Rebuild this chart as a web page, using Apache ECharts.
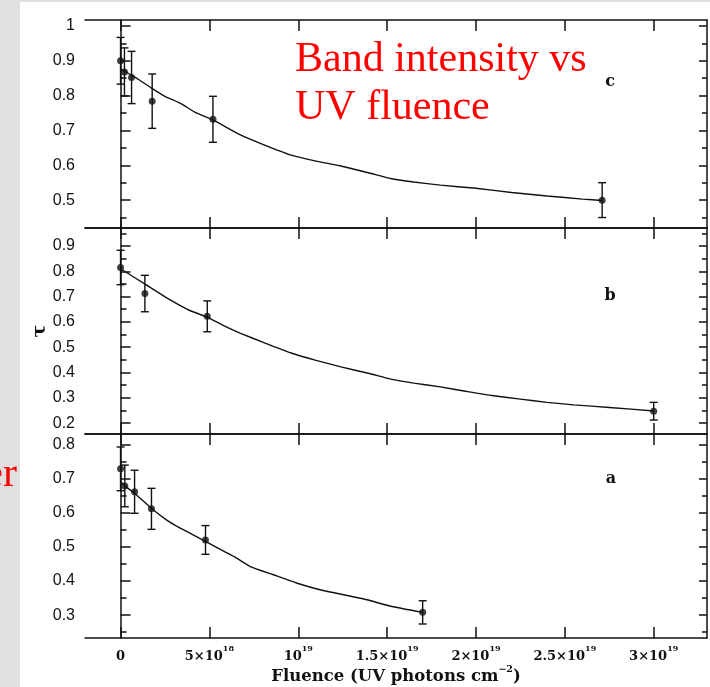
<!DOCTYPE html>
<html><head><meta charset="utf-8">
<script src="https://cdn.jsdelivr.net/npm/echarts@6/dist/echarts.min.js"></script>
<style>html,body{margin:0;padding:0;background:#e0e0e0}#main{width:710px;height:687px}</style>
</head><body><div id="main"></div>
<script>
// Fluence values in units of 1e18 photons cm^-2
const xTickValues = [0, 5, 10, 15, 20, 25, 30];
const xTickLabels = ['{n|0}', '{n|5×10}{s|18}', '{n|10}{s|19}', '{n|1.5×10}{s|19}', '{n|2×10}{s|19}', '{n|2.5×10}{s|19}', '{n|3×10}{s|19}'];
const panelNames = ['c', 'b', 'a'];

// Panel c
const cMajor = [0.5, 0.6, 0.7, 0.8, 0.9, 1];
const cMinor = [0.45, 0.55, 0.65, 0.75, 0.85, 0.95];
const cPointX = [0, 0.22, 0.62, 1.78, 5.2, 27.1];
const cPointY = [0.9, 0.868, 0.852, 0.784, 0.732, 0.5];
const cPointErr = [0.067, 0.069, 0.075, 0.078, 0.066, 0.05];
const cCurveX = [0, 0.5, 1, 1.7, 2.5, 3.4, 4.2, 5.2, 6.75, 8, 9.6, 11, 12.4, 14, 15.2, 16.5, 18, 20, 22, 24, 26, 27.1];
const cCurveY = [0.877, 0.862, 0.847, 0.823, 0.798, 0.777, 0.752, 0.73, 0.687, 0.66, 0.629, 0.612, 0.598, 0.578, 0.562, 0.552, 0.543, 0.534, 0.522, 0.512, 0.503, 0.499];

// Panel b
const bMajor = [0.2, 0.3, 0.4, 0.5, 0.6, 0.7, 0.8, 0.9];
const bMinor = [0.25, 0.35, 0.45, 0.55, 0.65, 0.75, 0.85, 0.95];
const bPointX = [0, 1.37, 4.88, 30.0];
const bPointY = [0.815, 0.712, 0.622, 0.247];
const bPointErr = [0.068, 0.072, 0.061, 0.035];
const bCurveX = [0, 1.4, 2.6, 3.9, 4.9, 5.8, 6.75, 8, 9.6, 11, 12.4, 14, 15.2, 16.5, 18, 19.5, 20.8, 22.5, 24, 25.5, 27.5, 30];
const bCurveY = [0.81, 0.748, 0.695, 0.645, 0.618, 0.585, 0.555, 0.52, 0.477, 0.448, 0.422, 0.396, 0.374, 0.358, 0.343, 0.325, 0.31, 0.295, 0.282, 0.272, 0.262, 0.248];

// Panel a
const aMajor = [0.3, 0.4, 0.5, 0.6, 0.7, 0.8];
const aMinor = [0.25, 0.35, 0.45, 0.55, 0.65, 0.75];
const aPointX = [0, 0.24, 0.79, 1.74, 4.78, 17.0];
const aPointY = [0.728, 0.678, 0.661, 0.611, 0.52, 0.308];
const aPointErr = [0.064, 0.061, 0.063, 0.06, 0.042, 0.034];
const aCurveX = [0, 0.3, 0.8, 1.75, 2.6, 3.2, 3.9, 4.8, 6.4, 7.3, 8.6, 9.9, 11.4, 13.7, 15.2, 17.0];
const aCurveY = [0.69, 0.676, 0.656, 0.612, 0.578, 0.559, 0.54, 0.515, 0.471, 0.442, 0.418, 0.394, 0.372, 0.347, 0.326, 0.308];

const panels = [
  {major: cMajor, minor: cMinor, min: 0.42, max: 1.017, px: cPointX, py: cPointY, pe: cPointErr, lx: cCurveX, ly: cCurveY},
  {major: bMajor, minor: bMinor, min: 0.157, max: 0.971, px: bPointX, py: bPointY, pe: bPointErr, lx: bCurveX, ly: bCurveY},
  {major: aMajor, minor: aMinor, min: 0.233, max: 0.83, px: aPointX, py: aPointY, pe: aPointErr, lx: aCurveX, ly: aCurveY}
];

const gridBoxes = [
  {left: 85, top: 20, width: 622, height: 208},
  {left: 85, top: 228, width: 622, height: 206},
  {left: 85, top: 434, width: 622, height: 204}
];
const letterPos = [[610, 82], [610, 296], [611, 479]];

const ink = '#111111';
const serif = 'DejaVu Serif';
const grid = [], xAxis = [], yAxis = [], series = [];

function errRender(params, api) {
  const x = api.value(0), y = api.value(1), e = api.value(2);
  const t = api.coord([x, y + e]), b = api.coord([x, y - e]);
  const hw = 4, st = {stroke: ink, lineWidth: 1.4};
  return {type: 'group', children: [
    {type: 'line', shape: {x1: t[0], y1: t[1], x2: b[0], y2: b[1]}, style: st},
    {type: 'line', shape: {x1: t[0] - hw, y1: t[1], x2: t[0] + hw, y2: t[1]}, style: st},
    {type: 'line', shape: {x1: b[0] - hw, y1: b[1], x2: b[0] + hw, y2: b[1]}, style: st}
  ]};
}

const labRich = {
  n: {fontSize: 13, fontFamily: serif, fontWeight: 'bold', color: ink, verticalAlign: 'bottom', lineHeight: 18},
  s: {fontSize: 8, fontFamily: serif, fontWeight: 'bold', color: ink, verticalAlign: 'top', lineHeight: 9}
};
const nameRich = {
  n: {fontSize: 16.5, fontFamily: serif, fontWeight: 'bold', color: ink, verticalAlign: 'bottom', lineHeight: 20},
  s: {fontSize: 9.5, fontFamily: serif, fontWeight: 'bold', color: ink, verticalAlign: 'top', lineHeight: 11}
};

panels.forEach((p, g) => {
  grid.push(Object.assign({containLabel: false}, gridBoxes[g]));
  const isBottom = g === 2;
  ['bottom', 'top'].forEach(pos => {
    const showLab = isBottom && pos === 'bottom';
    xAxis.push({
      type: 'value', gridIndex: g, position: pos, min: -2, max: 33,
      axisLine: {show: true, onZero: false, lineStyle: {color: ink, width: 1.5}},
      axisTick: {show: true, inside: true, length: 11, customValues: xTickValues, lineStyle: {color: ink, width: 1.5}},
      splitLine: {show: false},
      axisLabel: showLab ? {
        show: true, customValues: xTickValues, margin: 7,
        formatter: v => xTickLabels[xTickValues.indexOf(v)],
        color: ink, fontFamily: serif, fontSize: 13, rich: labRich
      } : {show: false},
      name: showLab ? '{n|Fluence (UV photons cm}{s|−2}{n|)}' : '',
      nameLocation: 'middle', nameGap: 27, nameMoveOverlap: false,
      nameTextStyle: {fontFamily: serif, fontSize: 16, color: ink, rich: nameRich}
    });
  });
  const yBase = {type: 'value', gridIndex: g, min: p.min, max: p.max, splitLine: {show: false}};
  yAxis.push(Object.assign({}, yBase, {
    position: 'left',
    axisLine: {show: true, lineStyle: {color: ink, width: 1.5}},
    axisTick: {show: true, inside: true, length: 10, customValues: p.major, lineStyle: {color: ink, width: 1.5}},
    axisLabel: {show: true, customValues: p.major, margin: 10, color: ink, fontFamily: 'Liberation Sans', fontSize: 16,
      formatter: v => String(+(+v).toFixed(2))},
    name: g === 1 ? 'τ' : '', nameLocation: 'middle', nameGap: 35, nameRotate: 90, nameMoveOverlap: false,
    nameTextStyle: {fontFamily: serif, fontSize: 19, fontWeight: 'bold', color: ink}
  }));
  yAxis.push(Object.assign({}, yBase, {
    position: 'left',
    axisLine: {show: false},
    axisTick: {show: true, inside: true, length: 6, customValues: p.minor, lineStyle: {color: ink, width: 1.5}},
    axisLabel: {show: false}
  }));
  yAxis.push(Object.assign({}, yBase, {
    position: 'right',
    axisLine: {show: true, lineStyle: {color: ink, width: 1.5}},
    axisTick: {show: true, inside: true, length: 8, customValues: p.major, lineStyle: {color: ink, width: 1.5}},
    axisLabel: {show: false}
  }));
  yAxis.push(Object.assign({}, yBase, {
    position: 'right',
    axisLine: {show: false},
    axisTick: {show: true, inside: true, length: 5, customValues: p.minor, lineStyle: {color: ink, width: 1.5}},
    axisLabel: {show: false}
  }));

  const xi = 2 * g, yi = 4 * g;
  series.push({
    type: 'line', xAxisIndex: xi, yAxisIndex: yi, showSymbol: false, smooth: 0.15,
    lineStyle: {color: ink, width: 1.4}, data: p.lx.map((x, i) => [x, p.ly[i]]), silent: true, animation: false
  });
  series.push({
    type: 'custom', xAxisIndex: xi, yAxisIndex: yi, renderItem: errRender,
    data: p.px.map((x, i) => [x, p.py[i], p.pe[i]]), encode: {x: 0, y: 1}, animation: false, z: 3
  });
  series.push({
    type: 'scatter', xAxisIndex: xi, yAxisIndex: yi, symbol: 'circle', symbolSize: 7,
    itemStyle: {color: ink}, data: p.px.map((x, i) => [x, p.py[i]]), animation: false, z: 4
  });
});

const graphic = [
  {type: 'rect', shape: {x: 20, y: 2, width: 690, height: 685}, style: {fill: '#ffffff'}, z: -10, silent: true},
  {type: 'text', x: 295, y: 60, style: {text: 'Band intensity vs', font: '42px "Liberation Serif"', fill: '#ff0000', verticalAlign: 'middle'}, z: 10},
  {type: 'text', x: 295, y: 108, style: {text: 'UV fluence', font: '42px "Liberation Serif"', fill: '#ff0000', verticalAlign: 'middle'}, z: 10},
  {type: 'text', x: 17, y: 475, style: {text: 'er', font: '42px "Liberation Serif"', fill: '#ff0000', align: 'right', verticalAlign: 'middle'}, z: 10}
];
panelNames.forEach((n, g) => {
  graphic.push({type: 'text', x: letterPos[g][0], y: letterPos[g][1],
    style: {text: n, font: 'bold 16px "DejaVu Serif"', fill: ink, align: 'center', verticalAlign: 'middle'}, z: 10});
});

const chart = echarts.init(document.getElementById('main'));
chart.setOption({
  backgroundColor: '#e0e0e0',
  animation: false,
  grid, xAxis, yAxis, series, graphic
});
</script>
</body></html>
